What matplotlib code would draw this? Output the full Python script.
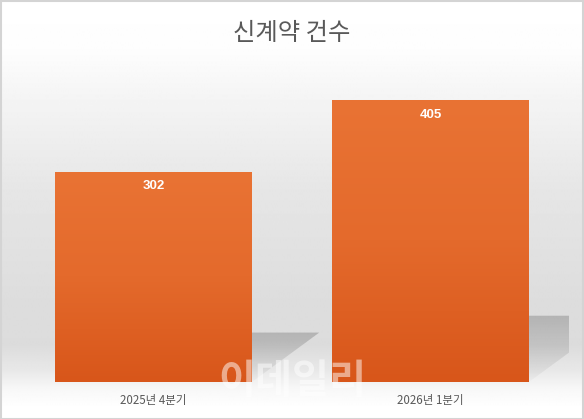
import numpy as np
import matplotlib
matplotlib.use("Agg")
import matplotlib.pyplot as plt
from matplotlib.colors import LinearSegmentedColormap
from matplotlib.patches import Polygon, Rectangle

plt.rcParams['font.family'] = ['Noto Sans CJK KR', 'DejaVu Sans']

# data
categories = ["2025년 4분기", "2026년 1분기"]
values = [302, 405]
title = "신계약 건수"

W, H = 584, 419
fig = plt.figure(figsize=(W / 100, H / 100), dpi=100)

# background gradient (whole chart)
bg = fig.add_axes([0, 0, 1, 1], zorder=-2)
ys = np.array([0, 50, 100, 190, 300, 345, 370, 388, 405, 419])
gs = np.array([255, 253, 244, 230, 221, 220, 232, 247, 254, 255]) / 255
col = np.interp(np.arange(H), ys, gs)
img = np.repeat(col[:, None], 4, axis=1)
bg.imshow(img, cmap='gray', vmin=0, vmax=1, aspect='auto',
          extent=[0, 1, 0, 1], interpolation='bilinear')
bg.set_xlim(0, 1)
bg.set_ylim(0, 1)
bg.add_patch(Rectangle((0.5 / W, 0.5 / H), 1 - 1.5 / W, 1 - 1.5 / H,
                       facecolor='none', edgecolor='#d4d4d4', linewidth=1.5,
                       zorder=5))
bg.set_axis_off()

# plot area
ymax = 450
px_y = 282 / 405          # pixels per value unit
px_x = 277                # pixels per category
ax = fig.add_axes([15 / W, 1 - 382 / H, 554 / W, ymax * px_y / H])
ax.set_facecolor('none')
ax.set_xlim(-0.5, 1.5)
ax.set_ylim(0, ymax)
ax.set_axis_off()

x = np.arange(len(categories))
bars = ax.bar(x, values, width=0.711, color='none', zorder=3)

orange = LinearSegmentedColormap.from_list('og', ['#D8561A', '#E46A2C', '#E97334'])
grad = np.linspace(0, 1, 256)[:, None]

# shadows behind each bar
sh_rgba = np.zeros((256, 2, 4))
sh_rgba[:, :, 3] = np.linspace(0.02, 0.19, 256)[:, None]
for b in bars:
    x0, x1, h = b.get_x(), b.get_x() + b.get_width(), b.get_height()
    hs = 0.235 * h
    dx = 0.32 * h * px_y / px_x
    poly = Polygon([(x0, 0), (x1, 0), (x1 + dx, hs), (x0 + dx, hs)],
                   closed=True, facecolor='none', edgecolor='none')
    ax.add_patch(poly)
    im = ax.imshow(sh_rgba, extent=[x0, x1 + dx, 0, hs], origin='lower',
                   aspect='auto', zorder=1, interpolation='bilinear')
    im.set_clip_path(poly)

# gradient bars
for b in bars:
    x0, x1, h = b.get_x(), b.get_x() + b.get_width(), b.get_height()
    im = ax.imshow(grad, cmap=orange, extent=[x0, x1, 0, h], origin='lower',
                   aspect='auto', zorder=2)
    im.set_clip_path(b)

# value labels
for xi, v in zip(x, values):
    ax.annotate(str(v), xy=(xi, v), xytext=(0, -10.5), textcoords='offset points',
                ha='center', va='center', color='white', fontsize=9.5,
                fontweight='bold', family=['Liberation Sans'], zorder=5)

# category labels
for xi, c in zip(x, categories):
    ax.annotate(c, xy=(xi, 0), xytext=(0, -13), textcoords='offset points',
                ha='center', va='center', color='#595959', fontsize=8.3,
                annotation_clip=False)

fig.text(292 / W, 1 - 33 / H, title, ha='center', va='center',
         fontsize=17.5, color='#595959')

# watermark
fig.text(292 / W, 1 - 381 / H, "이데일리", ha='center', va='center',
         fontsize=29, fontweight='bold', color='white', alpha=0.5, zorder=10)

fig.savefig('out.png', dpi=100)
